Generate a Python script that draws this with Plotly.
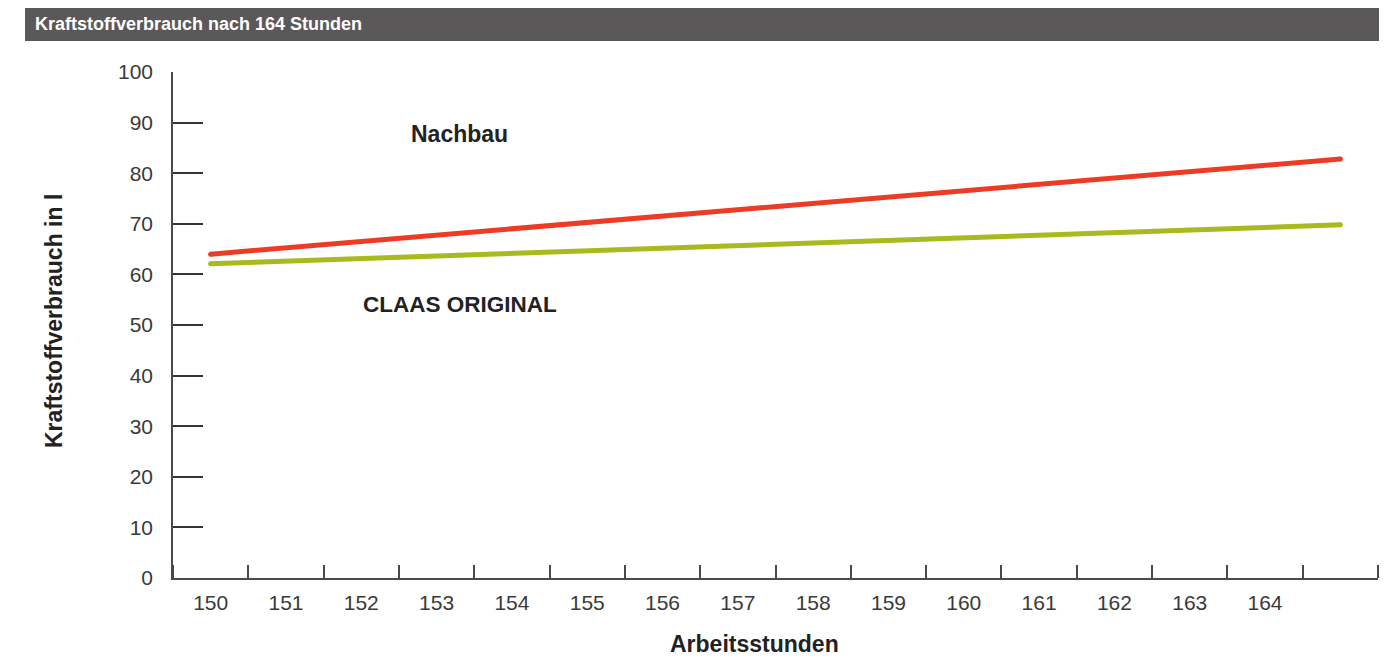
import plotly.graph_objects as go

# ---- data ----
hours = [150, 165]
nachbau = [64.0, 82.8]
claas_original = [62.1, 69.8]
x_tick_values = [150, 151, 152, 153, 154, 155, 156, 157, 158, 159, 160, 161, 162, 163, 164]
x_tick_labels = ["150", "151", "152", "153", "154", "155", "156", "157", "158", "159",
                 "160", "161", "162", "163", "164"]
x_boundaries = [149.5 + i for i in range(17)]
y_tick_values = [0, 10, 20, 30, 40, 50, 60, 70, 80, 90, 100]

# page body has an 8px margin: lay out in screenshot pixels minus 8
OFF = 8
W, H = 1397 - 2 * OFF, 658 - OFF
L = 173 - OFF
T = 72 - OFF
R = W - (1378 - OFF)
B = H - (578 - OFF)
pw, ph = W - L - R, H - T - B

def px_x(p):
    return (p - OFF - L) / pw

def px_y(p):
    return (H - B - (p - OFF)) / ph

FONT = "Liberation Sans, Arial, Helvetica, sans-serif"
RED = "#ee3b24"
GREEN = "#a9ba1e"
AXIS = "#4a4a4a"

fig = go.Figure()
fig.add_trace(go.Scatter(x=hours, y=nachbau, mode="lines+markers", name="Nachbau",
                         line=dict(color=RED, width=5), marker=dict(color=RED, size=5),
                         showlegend=False, hoverinfo="x+y"))
fig.add_trace(go.Scatter(x=hours, y=claas_original, mode="lines+markers", name="CLAAS ORIGINAL",
                         line=dict(color=GREEN, width=5), marker=dict(color=GREEN, size=5),
                         showlegend=False, hoverinfo="x+y"))

fig.update_layout(
    width=W, height=H,
    margin=dict(l=L, r=R, t=T, b=B, pad=0),
    paper_bgcolor="white", plot_bgcolor="white",
    font=dict(family=FONT, color="#3a3a3a"),
    xaxis=dict(
        range=[149.5, 165.5], showgrid=False, zeroline=False,
        showline=True, linecolor=AXIS, linewidth=1.5,
        tickmode="array", tickvals=x_tick_values, ticktext=x_tick_labels,
        ticks="", ticklabelstandoff=5,
        tickfont=dict(size=21, color="#3a3a3a", family=FONT),
        minor=dict(tickmode="array", tickvals=x_boundaries, ticks="inside",
                   ticklen=13, tickwidth=1.5, tickcolor=AXIS, showgrid=False),
    ),
    yaxis=dict(
        range=[0, 100], showgrid=False, zeroline=False,
        showline=True, linecolor=AXIS, linewidth=1.5,
        tickmode="array", tickvals=y_tick_values,
        ticks="inside", ticklen=30, tickwidth=1.5, tickcolor="#333333",
        ticklabelstandoff=14,
        tickfont=dict(size=21, color="#3a3a3a", family=FONT),
    ),
    shapes=[dict(type="rect", xref="paper", yref="paper",
                 x0=px_x(25), x1=px_x(1379), y0=px_y(41), y1=px_y(6),
                 fillcolor="#5b5859", line=dict(width=0), layer="below")],
    annotations=[
        dict(text="<b>Kraftstoffverbrauch nach 164 Stunden</b>", xref="paper", yref="paper",
             x=px_x(33), y=px_y(23.5), xanchor="left", yanchor="middle", showarrow=False,
             font=dict(size=18, color="white", family=FONT)),
        dict(text="<b>Nachbau</b>", x=153.31, y=87.7, xanchor="center", yanchor="middle",
             showarrow=False, font=dict(size=23, color="#222222", family=FONT)),
        dict(text="<b>CLAAS ORIGINAL</b>", x=153.31, y=54.1, xanchor="center", yanchor="middle",
             showarrow=False, font=dict(size=22.5, color="#222222", family=FONT)),
        dict(text="<b>Arbeitsstunden</b>", xref="paper", yref="paper",
             x=px_x(754), y=px_y(644), xanchor="center", yanchor="middle", showarrow=False,
             font=dict(size=23, color="#222222", family=FONT)),
        dict(text="<b>Kraftstoffverbrauch in l</b>", xref="paper", yref="paper",
             x=px_x(54), y=px_y(321), xanchor="center", yanchor="middle", showarrow=False,
             textangle=-90, font=dict(size=23, color="#222222", family=FONT)),
    ],
)

fig.write_html("out.html")
